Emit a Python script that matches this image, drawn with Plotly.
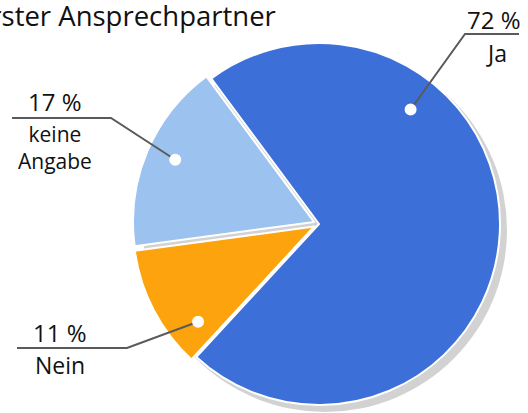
import math
import plotly.graph_objects as go

# ---- data ----
labels = ["Ja", "Nein", "keine Angabe"]
values = [72, 11, 17]
pct_labels = ["72 %", "11 %", "17 %"]
name_labels = ["Ja", "Nein", "keine<br>Angabe"]
title_text = "Erster Ansprechpartner"

# ---- style / layout ----
colors = ["#3c6fd7", "#fca30d", "#9cc2ef"]
W, H = 528, 413
OFF = 0  # body margin removed via post_script
rotation = -36.5
pull = [0, 0.03, 0.03]
cx, cy, R = 319, 224, 181  # screen pixels
half = R * (1 + max(pull))


def px(x):
    return (x - OFF) / W


def py(y):
    return 1 - (y - OFF) / H


domain_x = [px(cx - half), px(cx + half)]
domain_y = [py(cy + half), py(cy - half)]
FONT = "Open Sans"

# where on each slice the white dot sits (fraction of angle span, fraction of radius)
anchor_frac = [0.29, 0.2, 0.52]
anchor_r = [0.81, 0.83, 0.84]
# label placement (screen pixels)
elbow = [(465, 34), (127, 348), (111, 118)]
line_end_x = [519, 17, 12]
pct_pos = [(494, 20), (60, 332), (55, 101)]
name_pos = [(496, 53), (60, 365), (55, 148)]
pct_size = [24, 24, 24]
name_size = [23, 23, 21]

fig = go.Figure()
fig.add_trace(go.Pie(
    labels=labels, values=values, sort=False, direction="clockwise",
    rotation=rotation, pull=pull, textinfo="none", hoverinfo="label+percent",
    marker=dict(colors=colors, line=dict(color="#ffffff", width=2)),
    domain=dict(x=domain_x, y=domain_y), showlegend=False,
))

shapes = []
# soft drop shadow
shapes.append(dict(type="circle", layer="below", xref="paper", yref="paper",
                   x0=px(cx + 6 - R - 1), x1=px(cx + 6 + R + 1),
                   y0=py(cy + 6 + R + 1), y1=py(cy + 6 - R - 1),
                   fillcolor="#d2d2d2", line=dict(width=0)))

annotations = []
total = sum(values)
start = rotation
for i, v in enumerate(values):
    span = v / total * 360
    mid = start + span / 2
    off = pull[i] * R
    ox = cx + off * math.sin(math.radians(mid))
    oy = cy - off * math.cos(math.radians(mid))
    ang = start + anchor_frac[i] * span
    dx = ox + anchor_r[i] * R * math.sin(math.radians(ang))
    dy = oy - anchor_r[i] * R * math.cos(math.radians(ang))
    ex, ey = elbow[i]
    path = "M {:.4f} {:.4f} L {:.4f} {:.4f} L {:.4f} {:.4f}".format(
        px(dx), py(dy), px(ex), py(ey), px(line_end_x[i]), py(ey))
    shapes.append(dict(type="path", path=path, xref="paper", yref="paper",
                       layer="above", line=dict(color="#5a5a5a", width=2)))
    rr = 6
    shapes.append(dict(type="circle", xref="paper", yref="paper", layer="above",
                       x0=px(dx - rr), x1=px(dx + rr), y0=py(dy + rr), y1=py(dy - rr),
                       fillcolor="#ffffff", line=dict(color="#ffffff", width=0)))
    annotations.append(dict(text=pct_labels[i], x=px(pct_pos[i][0]), y=py(pct_pos[i][1]),
                            xref="paper", yref="paper", showarrow=False,
                            xanchor="center", yanchor="middle",
                            font=dict(family=FONT, size=pct_size[i], color="#111111")))
    annotations.append(dict(text=name_labels[i], x=px(name_pos[i][0]), y=py(name_pos[i][1]),
                            xref="paper", yref="paper", showarrow=False,
                            xanchor="center", yanchor="middle",
                            font=dict(family=FONT, size=name_size[i], color="#111111")))
    start += span

annotations.append(dict(text=title_text, x=px(278), y=py(16), xref="paper", yref="paper",
                        showarrow=False, xanchor="right", yanchor="middle",
                        font=dict(family=FONT, size=27.5, color="#111111")))

fig.update_layout(
    width=W, height=H, margin=dict(l=0, r=0, t=0, b=0),
    paper_bgcolor="#ffffff", plot_bgcolor="#ffffff",
    shapes=shapes, annotations=annotations, showlegend=False,
)
fig.write_html("out.html", config={"displayModeBar": False},
               post_script="document.body.style.margin='0';document.body.style.overflow='hidden';")
